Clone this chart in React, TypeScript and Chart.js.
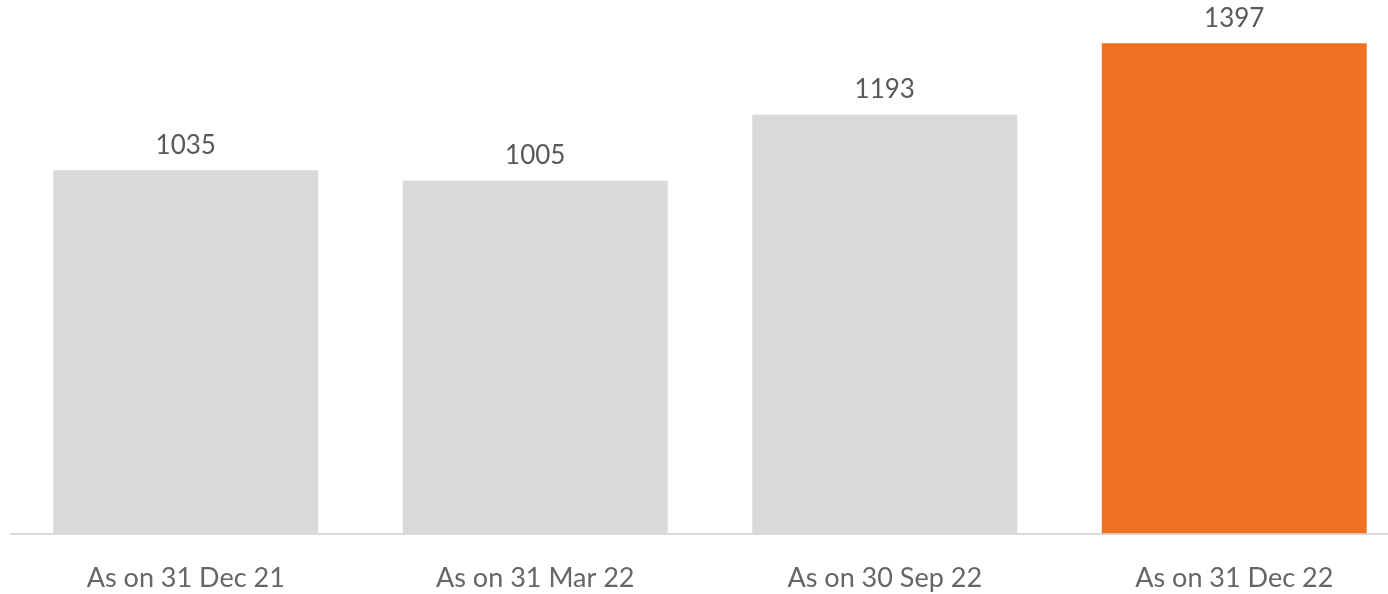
import React, { useEffect, useRef } from "react";
import { Chart, registerables } from "chart.js";

Chart.register(...registerables);

const categories = ["As on 31 Dec 21", "As on 31 Mar 22", "As on 30 Sep 22", "As on 31 Dec 22"];
const values = [1035, 1005, 1193, 1397];
const barColors = ["#d9d9d9", "#d9d9d9", "#d9d9d9", "#f07122"];

const valueLabels = {
  id: "valueLabels",
  afterDatasetsDraw(chart: any) {
    const ctx = chart.ctx;
    const meta = chart.getDatasetMeta(0);
    ctx.save();
    ctx.font = "26px Lato";
    ctx.fillStyle = "#595959";
    ctx.textAlign = "center";
    ctx.textBaseline = "bottom";
    meta.data.forEach((bar: any, i: number) => {
      ctx.fillText(String(values[i]), bar.x, bar.y - 12);
    });
    ctx.restore();
  },
};

export default function App() {
  const ref = useRef<HTMLCanvasElement>(null);
  useEffect(() => {
    if (!ref.current) return;
    const chart = new Chart(ref.current, {
      type: "bar",
      data: {
        labels: categories,
        datasets: [
          {
            data: values,
            backgroundColor: barColors,
            categoryPercentage: 1,
            barPercentage: 0.758,
          },
        ],
      },
      options: {
        animation: false,
        responsive: false,
        maintainAspectRatio: false,
        layout: { padding: { left: 11, right: 0, top: 0, bottom: -20 } },
        plugins: { legend: { display: false }, tooltip: { enabled: false } },
        scales: {
          y: { display: false, min: 0, max: 1520 },
          x: {
            grid: { display: false },
            border: { display: true, color: "#d9d9d9", width: 2 },
            ticks: { color: "#666666", font: { family: "Lato", size: 27 }, padding: 20 },
          },
        },
      },
      plugins: [valueLabels],
    });
    return () => chart.destroy();
  }, []);
  return (
    <div style={{ position: "fixed", left: 0, top: 0, width: 1388, height: 594, overflow: "hidden", background: "#fff" }}>
      <canvas ref={ref} width={1409} height={594} style={{ width: 1409, height: 594 }} />
    </div>
  );
}
